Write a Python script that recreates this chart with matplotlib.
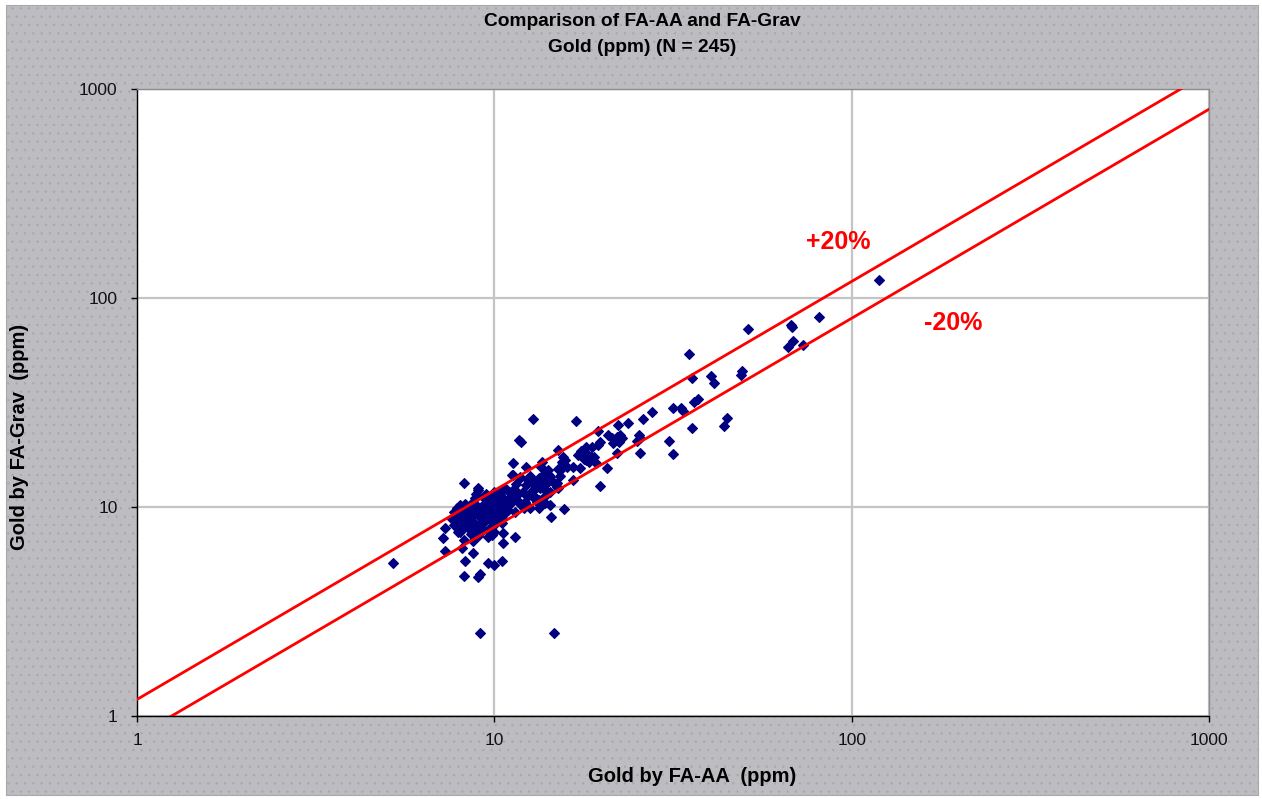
import numpy as np
import matplotlib
matplotlib.use("Agg")
import matplotlib.pyplot as plt
from matplotlib.patches import Rectangle
from matplotlib.ticker import FixedLocator, FixedFormatter, NullLocator

plt.rcParams['font.family'] = ['Liberation Sans', 'DejaVu Sans']
plt.rcParams['hatch.color'] = "#D2D8D1"
plt.rcParams['hatch.linewidth'] = 0.5

# Paired assays, gold in ppm
fa_aa = [
    5.2, 7.2, 7.3, 7.3, 7.6, 7.9, 8.2, 8.2, 8.3, 8.2, 8.7, 8.7, 9.0, 9.1, 9.6, 10.0, 10.5, 10.6, 10.6, 11.4,
    9.1, 14.7,
    12.6, 13.3, 13.2, 14.4, 15.7, 19.7, 20.7, 22.1, 25.5, 25.4, 25.6, 25.0, 26.0, 23.6, 22.2, 19.5, 16.9, 12.8,
    11.7, 11.9, 11.3, 12.3, 11.3, 11.8, 13.6, 15.1, 15.6, 15.5, 15.8, 17.1, 17.5, 17.6, 18.0, 18.2, 18.6, 18.0,
    18.4, 19.0, 18.8, 19.5, 19.7, 19.3, 20.8, 21.4, 22.1, 22.5, 22.3, 21.5, 22.8, 16.6, 17.4, 15.5, 15.3, 15.3,
    14.3, 14.6, 15.0, 14.1, 13.9, 14.2, 13.45, 13.8, 13.6, 13.0, 12.9, 13.2, 12.4, 12.8, 12.5, 13.0, 13.8,
    27.7, 31.7, 33.2, 33.8, 35.0, 35.8, 36.3, 37.2, 35.8, 40.5, 41.3, 44.0, 44.9, 48.9, 49.4, 51.4,
    68.3, 67.6, 66.4, 68.6, 73.3, 80.8, 119.0, 30.9, 31.7,
    9.0, 9.3, 8.7, 9.6, 9.9, 10.4, 10.6, 11.2, 11.8, 12.3, 11.3, 12.0, 11.1, 11.6, 12.2, 10.7, 10.2, 10.9, 11.4,
    12.1, 9.0, 8.7, 8.4, 8.1, 8.6, 9.1, 9.6, 9.7, 10.3, 10.5, 10.0, 9.3, 8.8, 8.4, 8.0, 8.0, 8.7, 9.1, 9.6, 7.7, 8.1,
    15.1, 12.6, 13.3, 13.7, 14.1, 10.7, 11.0, 11.45, 10.3, 10.5, 13.4, 13.9, 14.3, 15.0, 15.1, 12.9, 13.3, 10.7,
    11.1, 10.3, 10.0, 13.9, 14.3,
    9.0, 8.85, 9.95, 10.3, 10.6, 10.9, 8.2, 8.0, 9.0, 9.25, 9.6, 9.85, 9.55, 10.2, 10.5, 10.7, 8.7, 9.1, 8.5, 8.2,
    7.85, 7.7, 9.3, 9.75, 10.0, 8.6, 9.0, 9.6, 9.85, 7.7, 8.0, 7.85,
    8.3, 8.5, 8.8, 9.2, 9.4, 9.7, 9.8, 8.6, 8.9, 9.3, 9.5, 10.1, 10.4, 10.8, 11.0, 11.6, 12.2, 10.2, 8.4, 8.8,
    9.4, 9.8, 8.9, 9.5, 11.5, 12.7, 13.5, 16.0, 17.8, 16.6, 11.9,
]
fa_grav = [
    5.4, 7.1, 7.9, 6.15, 8.8, 7.6, 13.0, 6.95, 5.5, 4.7, 6.0, 6.9, 4.6, 4.8, 5.4, 5.3, 5.5, 6.7, 7.55, 7.2,
    2.5, 2.5,
    9.9, 9.9, 10.6, 9.0, 9.8, 12.6, 15.4, 18.1, 18.2, 22.1, 21.3, 20.6, 26.4, 25.2, 24.7, 23.1, 25.8, 26.4,
    20.9, 20.4, 16.2, 15.5, 14.2, 13.8, 16.4, 18.7, 17.4, 16.4, 16.8, 17.7, 18.5, 18.0, 19.4, 18.0, 17.4, 16.8,
    16.4, 17.4, 19.4, 19.8, 20.5, 16.2, 22.1, 21.4, 21.7, 22.1, 20.5, 20.2, 21.3, 15.5, 15.3, 15.3, 14.0, 15.1,
    13.9, 13.2, 12.5, 15.0, 14.5, 14.2, 13.5, 12.9, 13.8, 13.2, 12.7, 12.5, 13.5, 12.1, 11.4, 11.2, 11.2,
    28.5, 29.8, 29.8, 28.8, 54.0, 41.5, 31.8, 32.9, 23.9, 42.3, 39.2, 24.4, 26.7, 42.8, 44.8, 71.2,
    72.7, 74.5, 58.3, 62.2, 59.6, 81.2, 122.0, 20.7, 17.9,
    12.3, 11.2, 10.6, 10.8, 11.0, 11.7, 12.1, 14.2, 13.95, 12.7, 12.1, 11.8, 11.2, 10.8, 10.6, 10.4, 10.0, 9.7, 9.5,
    9.9, 9.9, 10.0, 9.4, 9.0, 8.7, 9.0, 9.4, 8.7, 8.9, 8.4, 8.2, 8.4, 8.0, 8.0, 8.4, 7.6, 7.6, 7.8, 7.8, 9.5, 6.4,
    15.2, 14.0, 13.7, 14.0, 13.2, 12.3, 11.8, 12.1, 11.6, 11.2, 12.3, 12.1, 11.8, 13.0, 12.3, 11.0, 10.8, 10.6,
    10.4, 10.2, 9.9, 10.4, 10.2,
    12.1, 11.0, 11.8, 11.4, 10.8, 10.2, 9.7, 9.2, 9.2, 9.4, 9.7, 9.2, 8.85, 9.0, 8.85, 9.4, 8.5, 8.4, 8.2, 8.0,
    8.5, 8.2, 7.8, 7.95, 7.6, 7.45, 7.3, 7.2, 7.35, 8.85, 10.2, 9.9,
    10.3, 10.0, 10.4, 10.0, 10.3, 10.5, 10.0, 9.6, 9.7, 9.6, 9.9, 9.5, 9.7, 10.0, 10.7, 11.4, 11.6, 10.8, 8.8, 9.3,
    9.1, 8.9, 11.5, 11.6, 12.9, 13.3, 15.6, 15.5, 17.0, 13.4, 10.2,
]

# +/-20 % tolerance envelope
band_factors = [1.2, 0.8]
band_labels = ["+20%", "-20%"]
band_label_pos = [(92.0, 185.0), (192.0, 76.0)]

axis_min, axis_max = 1, 1000
decade_ticks = [1, 10, 100, 1000]
decade_labels = ["1", "10", "100", "1000"]

W, H, DPI = 1262, 799, 100
fig = plt.figure(figsize=(W / DPI, H / DPI), dpi=DPI, facecolor="white")

# grey chart area with a fine dotted texture
bg = Rectangle((6 / W, 4 / H), 1252 / W, 790 / H, transform=fig.transFigure,
               facecolor="#BDBCC1", edgecolor="#A9A9AD", hatch="..", linewidth=0.8,
               zorder=-10)
fig.patches.append(bg)

ax = fig.add_axes([137 / W, 1 - 716 / H, (1209 - 137) / W, (716 - 89) / H])
ax.set_zorder(1)
ax.set_facecolor("white")
ax.set_xscale("log")
ax.set_yscale("log")
ax.set_xlim(axis_min, axis_max)
ax.set_ylim(axis_min, axis_max)

for axis in (ax.xaxis, ax.yaxis):
    axis.set_major_locator(FixedLocator(decade_ticks))
    axis.set_major_formatter(FixedFormatter(decade_labels))
    axis.set_minor_locator(NullLocator())

ax.grid(True, which="major", color="#C4C4C4", linewidth=1.6, zorder=0)
ax.set_axisbelow(True)

ax.tick_params(axis="both", which="major", direction="out", length=4, width=1,
               color="black", labelsize=12.5, labelcolor="#111111")
ax.tick_params(axis="y", pad=10)
ax.tick_params(axis="x", pad=8)

for side in ("left", "bottom"):
    ax.spines[side].set_color("black")
    ax.spines[side].set_linewidth(1.0)
for side in ("top", "right"):
    ax.spines[side].set_color("#8C8C8C")
    ax.spines[side].set_linewidth(1.0)

ax.plot(fa_aa, fa_grav, linestyle="none", marker="D", markersize=4.8,
        markerfacecolor="#000080", markeredgecolor="#000080", markeredgewidth=0.8,
        zorder=3, clip_on=True)

xs = np.array([axis_min, axis_max], dtype=float)
for f, lab, (lx, ly) in zip(band_factors, band_labels, band_label_pos):
    ax.plot(xs, f * xs, color="#FF0000", linewidth=2.0, zorder=4)
    ax.text(lx, ly, lab, color="#FF0000", fontsize=18, fontweight="bold",
            ha="center", va="center", zorder=5)

fig.text(642 / W, 1 - 22 / H, "Comparison of FA-AA and FA-Grav", ha="center", va="center",
         fontsize=13.8, fontweight="bold", color="black")
fig.text(642 / W, 1 - 47 / H, "Gold (ppm) (N = 245)", ha="center", va="center",
         fontsize=13.8, fontweight="bold", color="black")
fig.text(692 / W, 1 - 776 / H, "Gold by FA-AA  (ppm)", ha="center", va="center",
         fontsize=14.5, fontweight="bold", color="black")
fig.text(20 / W, 1 - 437 / H, "Gold by FA-Grav  (ppm)", ha="center", va="center",
         rotation=90, fontsize=14.5, fontweight="bold", color="black")

fig.savefig("out.png", dpi=DPI, facecolor="white")
